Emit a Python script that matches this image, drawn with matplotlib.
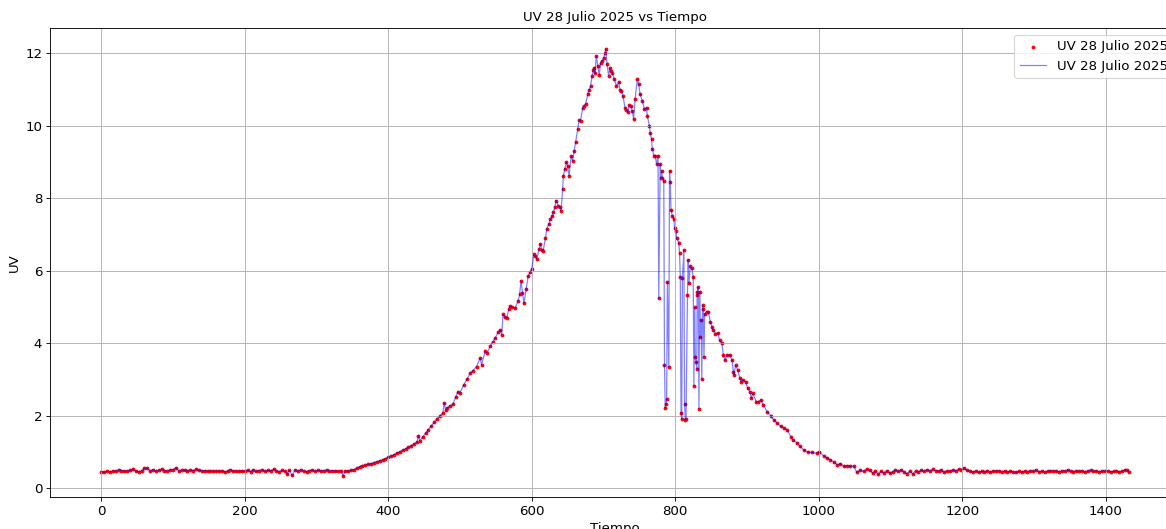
import matplotlib
matplotlib.use("Agg")
import matplotlib.pyplot as plt
import numpy as np

# minutos del dia y UV, por tramos
t_madrugada = [0, 4, 8, 12, 16, 20, 24, 28, 32, 36, 40, 44, 48, 52, 56, 60, 64, 68, 72, 76,
               80, 84, 88, 92, 96, 100, 104, 108, 112, 116, 120, 124, 128, 132, 136, 140, 144,
               148, 152, 156, 160, 164, 168, 172, 176, 180, 184, 188, 192, 196, 200, 204, 208,
               212, 216, 220, 224, 228, 232, 236, 240, 244, 248, 252, 256, 259, 262, 266, 270,
               274, 278, 282, 286, 290, 294, 298, 302, 306, 310, 314, 318, 322, 326, 330, 334,
               337, 340, 344, 348]
uv_madrugada = [0.46, 0.45, 0.47, 0.46, 0.48, 0.47, 0.52, 0.49, 0.47, 0.48, 0.50, 0.53, 0.47,
                0.46, 0.49, 0.55, 0.56, 0.48, 0.52, 0.47, 0.50, 0.53, 0.49, 0.47, 0.51, 0.52,
                0.57, 0.48, 0.51, 0.50, 0.47, 0.52, 0.49, 0.53, 0.50, 0.48, 0.49, 0.47, 0.48,
                0.47, 0.48, 0.47, 0.48, 0.46, 0.47, 0.52, 0.47, 0.48, 0.47, 0.48, 0.47, 0.50,
                0.46, 0.51, 0.47, 0.49, 0.52, 0.47, 0.50, 0.48, 0.53, 0.49, 0.46, 0.50, 0.47,
                0.40, 0.50, 0.36, 0.51, 0.47, 0.52, 0.48, 0.46, 0.49, 0.51, 0.47, 0.50, 0.48,
                0.49, 0.51, 0.47, 0.49, 0.48, 0.47, 0.49, 0.35, 0.48, 0.47, 0.50]

t_subida = [352, 356, 360, 364, 368, 372, 376, 380, 384, 388, 392, 396, 400, 404, 408, 412,
            416, 420, 424, 428, 432, 436, 440, 442, 444, 448, 452, 456, 460, 464, 468, 472,
            476, 478, 480, 482, 486, 490, 494, 497, 500, 505, 510, 514, 518, 523, 528, 530,
            535, 538, 542, 546, 549, 553, 556, 558, 560, 563, 565, 568, 570, 573, 577, 581,
            583, 585, 587, 589, 592, 595, 598, 600, 603, 605, 607, 610, 612, 614, 616, 619, 621]
uv_subida = [0.52, 0.56, 0.60, 0.63, 0.64, 0.66, 0.68, 0.71, 0.74, 0.76, 0.79, 0.82, 0.86,
             0.89, 0.93, 0.97, 1.01, 1.05, 1.09, 1.13, 1.18, 1.23, 1.28, 1.45, 1.32, 1.42,
             1.52, 1.62, 1.72, 1.82, 1.92, 2.00, 2.08, 2.36, 2.15, 2.22, 2.28, 2.32, 2.52,
             2.67, 2.64, 2.85, 3.02, 3.18, 3.25, 3.36, 3.60, 3.41, 3.78, 3.74, 3.92, 4.05,
             4.15, 4.30, 4.38, 4.24, 4.80, 4.72, 4.70, 4.95, 5.03, 4.99, 4.98, 5.17, 5.35,
             5.72, 5.40, 5.10, 5.49, 5.86, 5.98, 6.05, 6.46, 6.40, 6.32, 6.60, 6.74, 6.58,
             6.56, 6.90, 7.16]

t_pico = [624, 626, 628, 630, 632, 634, 637, 639, 641, 643, 644, 646, 648, 650, 652, 655, 657,
          659, 661, 664, 666, 668, 671, 673, 675, 678, 680, 682, 684, 686, 687, 688, 690, 692,
          694, 696, 698, 700, 702, 703, 705, 707, 709, 710, 712, 715, 718, 721, 723, 725, 727,
          730, 732, 734, 736, 738, 740, 742, 744, 747, 749, 751, 754, 757, 760, 761, 764, 765,
          767, 768, 770, 772, 774, 776]
uv_pico = [7.30, 7.43, 7.50, 7.61, 7.75, 7.94, 7.80, 7.75, 7.66, 8.26, 8.62, 8.80, 8.99, 8.90,
           8.62, 9.17, 9.04, 9.30, 9.54, 9.91, 10.15, 10.14, 10.50, 10.55, 10.60, 10.87, 11.00,
           11.10, 11.38, 11.55, 11.60, 11.45, 11.93, 11.65, 11.40, 11.74, 11.80, 11.88, 12.00,
           12.11, 11.70, 11.38, 11.60, 11.50, 11.47, 11.28, 11.10, 11.21, 11.00, 10.95, 10.83,
           10.50, 10.45, 10.37, 10.57, 10.55, 10.41, 10.18, 10.73, 11.28, 11.15, 10.87, 10.69,
           10.46, 10.50, 10.28, 10.00, 9.80, 9.63, 9.36, 9.18, 9.18, 8.94, 9.18]

# tramo con nubes (caidas bruscas)
t_nubes = [777, 779, 780, 781, 782, 784, 785, 786, 787, 788, 789, 791, 792, 793, 794, 796, 798,
           799, 801, 802, 805, 806, 807, 808, 809, 810, 812, 813, 814, 815, 817, 818, 819, 821,
           823, 825, 826, 827, 828, 829, 830, 830.5, 831, 832, 833, 834, 835, 836, 837, 838, 839,
           840, 841, 844, 846, 849, 851, 853, 856, 859, 862]
uv_nubes = [5.24, 8.94, 8.57, 8.76, 8.57, 8.48, 3.39, 2.23, 2.32, 2.46, 5.70, 3.34, 8.76, 8.44,
            7.69, 7.51, 7.42, 7.19, 7.09, 6.91, 6.77, 6.49, 5.84, 2.09, 1.91, 5.80, 6.58, 2.32,
            1.88, 1.91, 5.33, 6.31, 5.66, 6.12, 6.07, 5.84, 2.83, 5.00, 3.62, 3.48, 3.30, 5.33,
            5.43, 5.56, 2.19, 5.43, 4.18, 4.64, 3.02, 5.06, 4.96, 3.62, 4.82, 4.87, 4.87, 4.59,
            4.45, 4.36, 4.27, 4.29, 4.08]

t_bajada = [865, 867, 869, 872, 876, 879, 881, 882, 884, 887, 890, 892, 894, 898, 901, 904, 906,
            908, 913, 916, 919, 923, 928, 933, 937, 942, 947, 952, 956, 961, 964, 970, 974, 979,
            985, 991, 997, 1001, 1007, 1012, 1016, 1021, 1026, 1030, 1035, 1040, 1044, 1049,
            1053, 1058, 1063, 1067, 1071]
uv_bajada = [4.00, 3.68, 3.54, 3.68, 3.68, 3.54, 3.22, 3.13, 3.40, 3.27, 3.04, 2.94, 2.99, 2.94,
             2.76, 2.67, 2.49, 2.62, 2.39, 2.39, 2.44, 2.30, 2.12, 2.00, 1.89, 1.80, 1.71, 1.66,
             1.61, 1.43, 1.34, 1.25, 1.16, 1.06, 1.00, 0.99, 0.97, 0.99, 0.90, 0.83, 0.79, 0.72,
             0.65, 0.68, 0.61, 0.63, 0.61, 0.61, 0.44, 0.50, 0.47, 0.53, 0.50]

t_noche = [1075, 1079, 1083, 1087, 1091, 1095, 1099, 1103, 1107, 1111, 1115, 1119, 1123, 1127,
           1131, 1135, 1139, 1143, 1147, 1151, 1155, 1159, 1163, 1167, 1171, 1175, 1179, 1183,
           1187, 1191, 1195, 1199, 1203, 1207, 1211, 1215, 1219, 1223, 1227, 1231, 1235, 1239,
           1243, 1247, 1251, 1255, 1259, 1263, 1267, 1271, 1275, 1279, 1283, 1287, 1291, 1295,
           1299, 1303, 1307, 1311, 1315, 1319, 1323, 1327, 1331, 1335, 1339, 1343, 1347, 1351,
           1355, 1359, 1363, 1367, 1371, 1375, 1379, 1383, 1387, 1391, 1395, 1399, 1403, 1407,
           1411, 1415, 1419, 1423, 1427, 1430, 1432]
uv_noche = [0.42, 0.47, 0.40, 0.47, 0.43, 0.49, 0.42, 0.46, 0.50, 0.47, 0.52, 0.45, 0.41, 0.47,
            0.40, 0.48, 0.45, 0.50, 0.47, 0.52, 0.48, 0.53, 0.49, 0.47, 0.50, 0.44, 0.48, 0.47,
            0.51, 0.48, 0.53, 0.52, 0.55, 0.50, 0.47, 0.45, 0.48, 0.44, 0.47, 0.46, 0.49, 0.45,
            0.48, 0.47, 0.49, 0.46, 0.48, 0.45, 0.47, 0.46, 0.44, 0.47, 0.45, 0.48, 0.46, 0.49,
            0.47, 0.50, 0.46, 0.48, 0.45, 0.47, 0.49, 0.47, 0.48, 0.46, 0.49, 0.47, 0.51, 0.48,
            0.46, 0.49, 0.47, 0.48, 0.46, 0.48, 0.50, 0.47, 0.48, 0.46, 0.49, 0.47, 0.48, 0.46,
            0.47, 0.48, 0.46, 0.47, 0.52, 0.50, 0.46]

etiqueta = "UV 28 Julio 2025"

tiempo = np.concatenate([t_madrugada, t_subida, t_pico, t_nubes, t_bajada, t_noche])
uv = np.concatenate([uv_madrugada, uv_subida, uv_pico, uv_nubes, uv_bajada, uv_noche])

fig = plt.figure(figsize=(1166 / 80, 529 / 80), dpi=80)
# el recorte original corta el borde derecho del eje
ax = fig.add_axes([50 / 1166, 32 / 529, 1130 / 1166, 469 / 529])

ax.scatter(tiempo, uv, color="red", s=6, label=etiqueta)
ax.plot(tiempo, uv, color="blue", alpha=0.5, linewidth=1.1, label=etiqueta)
ax.set_title(f"{etiqueta} vs Tiempo", fontsize=12)
ax.set_xlabel("Tiempo", fontsize=12)
ax.set_ylabel("UV", fontsize=12)
ax.tick_params(labelsize=12)
ax.legend(fontsize=12, loc="upper right")
ax.grid(True)

fig.savefig("out.png", dpi=80)
